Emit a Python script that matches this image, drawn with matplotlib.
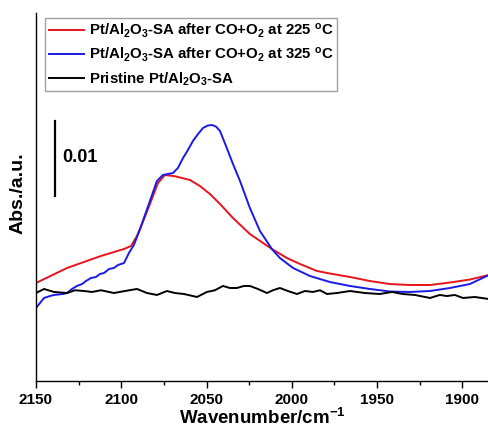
import matplotlib
matplotlib.use("Agg")
import matplotlib.pyplot as plt
import numpy as np

plt.rcParams['font.family'] = ['Liberation Sans', 'DejaVu Sans']
plt.rcParams['font.weight'] = 'bold'
plt.rcParams['mathtext.default'] = 'regular'

# Red: after CO+O2 at 225 C
red_w = [2150, 2131.8, 2111.9, 2098.4, 2094.3, 2090.8, 2089.0, 2083.2, 2078.5, 2074.4,
         2068.5, 2059.7, 2053.9, 2048.0, 2042.1, 2034.5, 2024.6, 2011.7, 2002.9, 1995.2,
         1985.3, 1977.7, 1965.9, 1954.2, 1942.5, 1930.8, 1919.0, 1907.3, 1895.6, 1884.5]
red_a = [0.01307, 0.01507, 0.01667, 0.0176, 0.0180, 0.01933, 0.02027, 0.0236, 0.0264, 0.02747,
         0.0273, 0.0268, 0.0260, 0.02493, 0.0236, 0.02173, 0.0196, 0.0176, 0.0164, 0.0156,
         0.01467, 0.01433, 0.01387, 0.01333, 0.01293, 0.0128, 0.0128, 0.01313, 0.01353, 0.01413]

# Blue: after CO+O2 at 325 C
blue_w = [2150, 2145.3, 2141.8, 2139.4, 2134.2, 2131.8, 2128.9, 2126.0, 2123.0, 2120.7,
          2117.8, 2114.8, 2112.5, 2110.1, 2107.2, 2104.3, 2101.9, 2098.4, 2095.5, 2092.6,
          2089.0, 2083.2, 2079.1, 2075.6, 2069.7, 2066.8, 2063.8, 2060.9, 2058.0, 2055.0,
          2052.1, 2049.2, 2046.8, 2044.5, 2042.1, 2038.6, 2034.5, 2030.4, 2024.6, 2018.7,
          2011.7, 2007.0, 1999.3, 1989.4, 1977.7, 1965.9, 1954.2, 1942.5, 1930.8, 1919.0,
          1907.3, 1895.6, 1884.5]
blue_a = [0.00973, 0.01107, 0.01133, 0.01147, 0.0116, 0.01173, 0.01227, 0.01267, 0.01293, 0.01333,
          0.01373, 0.01387, 0.01427, 0.0144, 0.01493, 0.01507, 0.01547, 0.01573, 0.01707, 0.01813,
          0.02027, 0.0240, 0.02667, 0.02747, 0.02773, 0.0284, 0.02973, 0.0308, 0.0320, 0.03293,
          0.03373, 0.03407, 0.03413, 0.03393, 0.03333, 0.03133, 0.02893, 0.02667, 0.02307, 0.0200,
          0.0176, 0.0164, 0.01507, 0.0140, 0.0132, 0.01267, 0.01227, 0.01193, 0.01187, 0.0120,
          0.0124, 0.01293, 0.01413]

# Black: pristine
black_w = [2150, 2145.3, 2139.4, 2131.8, 2127.1, 2121.9, 2117.2, 2111.9, 2104.3, 2097.8,
           2090.8, 2084.9, 2079.1, 2073.2, 2068.5, 2063.2, 2055.6, 2049.8, 2045.1, 2040.4,
           2036.3, 2032.2, 2028.1, 2024.6, 2019.9, 2014.6, 2011.1, 2007.0, 2002.3, 1997.0,
           1992.3, 1987.6, 1983.5, 1979.4, 1973.6, 1965.9, 1957.1, 1948.4, 1941.3, 1934.9,
           1927.8, 1919.0, 1913.2, 1909.1, 1904.4, 1899.7, 1892.7, 1884.4]
black_a = [0.01173, 0.01227, 0.01187, 0.01173, 0.0121, 0.0120, 0.01187, 0.0121, 0.01173, 0.0120,
           0.01227, 0.01173, 0.01147, 0.0120, 0.01173, 0.0116, 0.0112, 0.01187, 0.0121, 0.01267,
           0.0124, 0.0124, 0.01267, 0.01267, 0.01227, 0.01173, 0.0121, 0.0124, 0.0120, 0.0116,
           0.0120, 0.01187, 0.0121, 0.0116, 0.01173, 0.0120, 0.01173, 0.0116, 0.01187, 0.0116,
           0.01147, 0.01107, 0.01147, 0.01133, 0.01147, 0.01107, 0.0112, 0.01093]

labels = ['Pt/Al$_2$O$_3$-SA after CO+O$_2$ at 225 $^o$C',
          'Pt/Al$_2$O$_3$-SA after CO+O$_2$ at 325 $^o$C',
          'Pristine Pt/Al$_2$O$_3$-SA']
xticks = [2150, 2100, 2050, 2000, 1950, 1900]

fig = plt.figure(figsize=(4.89, 4.29), dpi=100)
ax = fig.add_axes([36/489, 1-381/429, 1-36/489, (381-13)/429])

ax.plot(red_w, red_a, color='#e8131b', lw=1.4, label=labels[0])
ax.plot(blue_w, blue_a, color='#1a1ae6', lw=1.4, label=labels[1])
ax.plot(black_w, black_a, color='black', lw=1.4, label=labels[2])

ax.set_xlim(2150, 1884.4)
ax.set_ylim(0, 368/7500)

# scale bar 0.01
ax.plot([2138.9, 2138.9], [(380-195)/7500, (380-195)/7500 + 0.01], color='black', lw=1.6)
ax.text(2134.5, (380-156)/7500, '0.01', fontsize=13, fontweight='bold', va='center', ha='left')

ax.set_xticks(xticks)
ax.set_xticks(np.arange(2150, 1880, -25), minor=True)
ax.set_yticks([])
ax.tick_params(axis='x', which='major', direction='out', length=5, width=1.0, labelsize=11, pad=4)
ax.tick_params(axis='x', which='minor', direction='out', length=3, width=1.0)
for lab in ax.get_xticklabels():
    lab.set_fontweight('bold')
ax.spines['top'].set_visible(False)
ax.spines['right'].set_visible(False)
ax.spines['left'].set_linewidth(1.0)
ax.spines['bottom'].set_linewidth(1.0)

ax.set_xlabel('Wavenumber/cm$^{-1}$', fontsize=13.5, fontweight='bold')
ax.xaxis.set_label_coords(0.5, -0.072)
ax.xaxis.label.set_va('top')
ax.set_ylabel('Abs./a.u.', fontsize=14, fontweight='bold')
ax.yaxis.set_label_coords(-0.022, 0.51)

leg = ax.legend(loc='upper left', bbox_to_anchor=(0.02, 0.986),
                prop={'weight': 'bold', 'size': 10.8}, frameon=True, fancybox=False,
                edgecolor='#888888', handlelength=2.35, handletextpad=0.3,
                borderpad=0.25, labelspacing=0.38, borderaxespad=0)
leg.get_frame().set_linewidth(1.0)

fig.savefig('out.png', dpi=100)
